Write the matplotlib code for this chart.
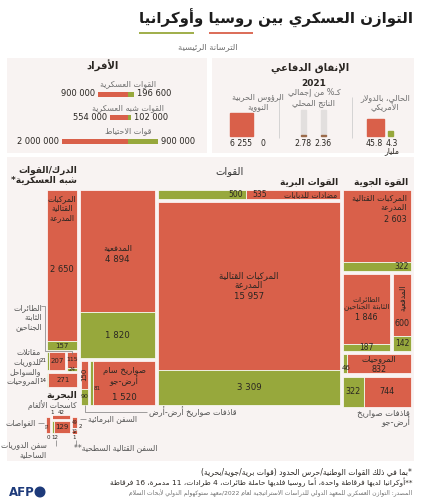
import matplotlib
matplotlib.use('Agg')
import matplotlib.pyplot as plt
from matplotlib.patches import Rectangle, Circle
import numpy as np

W, H = 421, 500
RED = '#d9604a'
GREEN = '#97a83c'
PANEL = '#f8f3f2'
INK = '#2a2622'
GREY = '#555555'
LIGHT = '#6e6e6e'

plt.rcParams['font.family'] = ['DejaVu Sans']

# ---------------- data ----------------
title = 'التوازن العسكري بين روسيا وأوكرانيا'
subtitle = 'الترسانة الرئيسية'

pers_labels = ['القوات العسكرية', 'القوات شبه العسكرية', 'قوات الاحتياط']
pers_ru = [900000, 554000, 2000000]
pers_ua = [196600, 102000, 900000]

budget = [45.8, 4.3]        # مليار دولار
gdp_pct = [2.78, 2.36]      # 2021
warheads = [6255, 0]

# الدرك/القوات شبه العسكرية
para_ru = [2650, 207, 115, 271]
para_ua = [157, 21, 24, 14]
# القوات البرية: مضادات للدبابات، مركبات مدرعة، مدفعية، صواريخ سام، قاذفات أرض-أرض
land_ru = [535, 15957, 4894, 1520, 150]
land_ua = [500, 3309, 1820, 81, 90]
# القوة الجوية: مركبات مدرعة، طائرات ثابتة الجناحين، مدفعية، مروحيات، قاذفات أرض-جو
air_ru = [2603, 1846, 600, 832, 744]
air_ua = [322, 187, 142, 46, 322]
# البحرية: غواصات، كاسحات ألغام، دوريات ساحلية، برمائية، قتالية سطحية
navy_ru = [51, 42, 129, 49, 32]
navy_ua = [0, 1, 12, 2, 1]

footnotes = ['*بما في ذلك القوات الوطنية/حرس الحدود (قوات برية/جوية/بحرية)',
             '**أوكرانيا لديها فرقاطة واحدة، أما روسيا فلديها حاملة طائرات، 4 طرادات، 11 مدمرة، 16 فرقاطة']
source = 'المصدر: التوازن العسكري للمعهد الدولي للدراسات الاستراتيجية لعام 2022/معهد ستوكهولم الدولي لأبحاث السلام'

# treemap layout boxes (x0, y0, x1, y1) in pixels, split direction
PARA_BOX = [(47, 190, 77, 350), (47, 352, 65, 370), (67, 352, 77, 371), (47, 373, 77, 387)]
PARA_DIR = ['v', 'h', 'v', 'h']
LAND_BOX = [(158, 190, 340, 199), (158, 202, 340, 405), (80, 190, 155, 358),
            (90, 361, 155, 405), (81, 361, 88, 405)]
LAND_DIR = ['h', 'v', 'v', 'h', 'v']
AIR_BOX = [(343, 190, 411, 271), (343, 274, 390, 351), (393, 274, 411, 351),
           (343, 354, 411, 373), (343, 377, 411, 407)]
AIR_DIR = ['v', 'v', 'v', 'h', 'h']
NAVY_BOX = [(46, 417, 50, 433), (52, 415, 70, 419), (52, 421, 70, 433),
            (72, 417, 77, 428), (72, 430, 77, 434)]
NAVY_DIR = ['v', 'h', 'h', 'v', 'v']

# ---------------- arabic shaping (no raqm in matplotlib) ----------------
_FORMS = {
    'ء': (0xFE80, 1), 'آ': (0xFE81, 2), 'أ': (0xFE83, 2), 'ؤ': (0xFE85, 2),
    'إ': (0xFE87, 2), 'ئ': (0xFE89, 4), 'ا': (0xFE8D, 2), 'ب': (0xFE8F, 4),
    'ة': (0xFE93, 2), 'ت': (0xFE95, 4), 'ث': (0xFE99, 4), 'ج': (0xFE9D, 4),
    'ح': (0xFEA1, 4), 'خ': (0xFEA5, 4), 'د': (0xFEA9, 2), 'ذ': (0xFEAB, 2),
    'ر': (0xFEAD, 2), 'ز': (0xFEAF, 2), 'س': (0xFEB1, 4), 'ش': (0xFEB5, 4),
    'ص': (0xFEB9, 4), 'ض': (0xFEBD, 4), 'ط': (0xFEC1, 4), 'ظ': (0xFEC5, 4),
    'ع': (0xFEC9, 4), 'غ': (0xFECD, 4), 'ف': (0xFED1, 4), 'ق': (0xFED5, 4),
    'ك': (0xFED9, 4), 'ل': (0xFEDD, 4), 'م': (0xFEE1, 4), 'ن': (0xFEE5, 4),
    'ه': (0xFEE9, 4), 'و': (0xFEED, 2), 'ى': (0xFEEF, 2), 'ي': (0xFEF1, 4),
}
_LAMALEF = {'آ': 0xFEF5, 'أ': 0xFEF7, 'إ': 0xFEF9, 'ا': 0xFEFB}
_TATWEEL = 'ـ'
_MIRROR = {'(': ')', ')': '('}


def _dual(c):
    return (c in _FORMS and _FORMS[c][1] == 4) or c == _TATWEEL


def _joins(c):
    return (c in _FORMS and _FORMS[c][1] > 1) or c == _TATWEEL


def _shape(s):
    out = []
    i = 0
    while i < len(s):
        c = s[i]
        prev = s[i - 1] if i > 0 else ''
        nxt = s[i + 1] if i + 1 < len(s) else ''
        cp = bool(prev) and _dual(prev) and _joins(c)
        if c == 'ل' and nxt in _LAMALEF:
            out.append(chr(_LAMALEF[nxt] + (1 if cp else 0)))
            i += 2
            continue
        if c in _FORMS:
            base, nf = _FORMS[c]
            cn = nf == 4 and bool(nxt) and _joins(nxt)
            if nf == 1:
                f = 0
            elif nf == 2:
                f = 1 if cp else 0
            else:
                f = {(False, False): 0, (True, False): 1, (False, True): 2, (True, True): 3}[(cp, cn)]
            out.append(chr(base + f))
        else:
            out.append(c)
        i += 1
    return ''.join(out)


def ar(s):
    if '\n' in s:
        return '\n'.join(ar(p) for p in s.split('\n'))
    sh = _shape(s)
    if all(c.isascii() for c in sh):
        return s
    kinds = []
    for c in sh:
        if c.isascii() and c.isalnum():
            kinds.append('L')
        elif not c.isascii():
            kinds.append('R')
        else:
            kinds.append('N')
    n = len(kinds)
    res = kinds[:]
    for i in range(n):
        if kinds[i] == 'N':
            a = next((kinds[j] for j in range(i - 1, -1, -1) if kinds[j] != 'N'), 'R')
            b = next((kinds[j] for j in range(i + 1, n) if kinds[j] != 'N'), 'R')
            res[i] = 'L' if (a == 'L' and b == 'L') else 'R'
    runs = []
    for c, k in zip(sh, res):
        if runs and runs[-1][0] == k:
            runs[-1][1].append(c)
        else:
            runs.append([k, [c]])
    out = ''
    for k, cs in reversed(runs):
        if k == 'R':
            out += ''.join(_MIRROR.get(c, c) for c in reversed(cs))
        else:
            out += ''.join(cs)
    return out


def fmt(v):
    if isinstance(v, float):
        return str(v)
    return f'{v:,}'.replace(',', ' ')


# ---------------- figure ----------------
fig = plt.figure(figsize=(W / 100, H / 100), dpi=100)
ax = fig.add_axes([0, 0, 1, 1])
ax.set_xlim(0, W)
ax.set_ylim(H, 0)
ax.axis('off')


def t(x, y, s, size=6, ha='center', va='center', color=INK, weight='normal', rot=0, **kw):
    return ax.text(x, y, ar(s), fontsize=size, ha=ha, va=va, color=color,
                   fontweight=weight, rotation=rot, linespacing=1.05, **kw)


def line(xs, ys, color='#7a7a7a', lw=0.5):
    ax.plot(xs, ys, color=color, lw=lw, solid_capstyle='butt')


for (x0, y0, x1, y1) in [(7, 58, 207, 153), (212, 58, 414, 153), (7, 157, 414, 461)]:
    ax.add_patch(Rectangle((x0, y0), x1 - x0, y1 - y0, facecolor=PANEL, edgecolor='none'))

# title + underlines
TSIZE = 10.8
tt = t(413, 18, title, size=TSIZE, ha='right', weight='bold', color='#1c1c1c')
t(208, 47, subtitle, size=6, color=LIGHT)
fig.canvas.draw()
rend = fig.canvas.get_renderer()


def width(s):
    tmp = ax.text(0, 0, ar(s), fontsize=TSIZE, fontweight='bold')
    w = tmp.get_window_extent(rend).width
    tmp.remove()
    return w


bb = tt.get_window_extent(rend)
gx1 = bb.x0 + width('أوكرانيا')
rx1 = bb.x0 + width('روسيا وأوكرانيا')
rx0 = rx1 - width('روسيا')
line([bb.x0, gx1], [33, 33], color=GREEN, lw=1.3)
line([rx0, rx1], [33, 33], color=RED, lw=1.3)

# ---------------- personnel ----------------
t(103, 66, 'الأفراد', size=7.2, weight='bold')
px0, py0, px1, py1 = 10, 80, 205, 150
pax = fig.add_axes([px0 / W, 1 - py1 / H, (px1 - px0) / W, (py1 - py0) / H])
pax.axis('off')
scale = 66 / 2000000                   # px per person
pax.set_xlim(-(128 - px0) / scale, (px1 - 128) / scale)
rows = np.arange(len(pers_ru))
step = 23.5
pax.set_ylim((py1 - 94) / step, (py0 - 94) / step)
pax.barh(rows, [-v for v in pers_ru], height=5 / step, color=RED)
pax.barh(rows, pers_ua, height=5 / step, color=GREEN)
off = 3 / scale
for i in rows:
    pax.text(-pers_ru[i] - off, i, fmt(pers_ru[i]), ha='right', va='center', fontsize=6, color=INK)
    pax.text(pers_ua[i] + off, i, fmt(pers_ua[i]), ha='left', va='center', fontsize=6, color=INK)
    pax.text(0, i - 10 / step, ar(pers_labels[i]), ha='center', va='center', fontsize=5.8, color=LIGHT)

# ---------------- defence spending ----------------
t(310, 68, 'الإنفاق الدفاعي', size=7.2, weight='bold')
line([279, 279], [97, 138], color='#cfcfcf', lw=0.6)
line([352, 352], [97, 138], color='#cfcfcf', lw=0.6)
base = 136

t(385, 103, 'الحالي، بالدولار\nالأمريكي', size=5.8, color=LIGHT)
k_b = 6.5
sr, sg = np.sqrt(budget[0] * k_b), np.sqrt(budget[1] * k_b)
ax.add_patch(Rectangle((384 - sr, base - sr), sr, sr, color=RED))
ax.add_patch(Rectangle((388, base - sg), sg, sg, color=GREEN))
t(384 - sr / 2 - 1.5, 143, fmt(budget[0]), size=5.6)
t(388 + sg / 2 + 1, 143, fmt(budget[1]), size=5.6)
t(388 + sg / 2 + 1, 151, 'مليار', size=5.6)

t(314, 83, '2021', size=6.5, weight='bold')
t(314, 97.5, 'كـ% من إجمالي\nالناتج المحلي', size=5.8, color=LIGHT)
for xc, v in zip([303, 323], gdp_pct):
    ax.add_patch(Rectangle((xc - 2.5, 110), 5, base - 110, color='#e2dfde'))
    hh = max(v / 100 * (base - 110), 0.8)
    ax.add_patch(Rectangle((xc - 2.5, base - hh), 5, hh, color='#9a6a4a'))
    t(xc, 143, fmt(v), size=5.6)

t(258, 101.5, 'الرؤوس الحربية\nالنووية', size=5.8, color=LIGHT)
k_w = 0.085
sw = np.sqrt(warheads[0] * k_w)
ax.add_patch(Rectangle((253 - sw, base - sw), sw, sw, color=RED))
t(253 - sw / 2, 143, fmt(warheads[0]), size=5.6)
t(263, 143, fmt(warheads[1]), size=5.6)

# ---------------- treemap ----------------


def split(box, d, ru, ua):
    x0, y0, x1, y1 = box
    f = ru / (ru + ua)
    if d == 'v':
        ym = y0 + f * (y1 - y0)
        return (x0, y0, x1, ym), (x0, ym, x1, y1)
    xm = x0 + (1 - f) * (x1 - x0)
    return (xm, y0, x1, y1), (x0, y0, xm, y1)


def draw_cells(boxes, dirs, ru, ua):
    out = []
    for b, d, r_, u_ in zip(boxes, dirs, ru, ua):
        r, u = split(b, d, r_, u_)
        for (x0, y0, x1, y1), col in ((r, RED), (u, GREEN)):
            if x1 - x0 > 0 and y1 - y0 > 0:
                ax.add_patch(Rectangle((x0, y0), x1 - x0, y1 - y0, facecolor=col,
                                       edgecolor='white', lw=0.5))
        out.append((r, u))
    return out


def cx(r):
    return (r[0] + r[2]) / 2


def cy(r):
    return (r[1] + r[3]) / 2


para = draw_cells(PARA_BOX, PARA_DIR, para_ru, para_ua)
land = draw_cells(LAND_BOX, LAND_DIR, land_ru, land_ua)
air = draw_cells(AIR_BOX, AIR_DIR, air_ru, air_ua)
navy = draw_cells(NAVY_BOX, NAVY_DIR, navy_ru, navy_ua)

# headers
t(230, 171, 'القوات', size=7.2, color='#333333')
t(77, 170, 'الدرك/القوات', size=6.5, ha='right', weight='bold')
t(77, 180, 'شبه العسكرية*', size=6.5, ha='right', weight='bold')
t(338, 182, 'القوات البرية', size=6.5, ha='right', weight='bold')
t(408, 182, 'القوة الجوية', size=6.5, ha='right', weight='bold')

# paramilitary
r, u = para[0]
t(cx(r), r[1] + 4, 'المركبات\nالقتالية\nالمدرعة', size=5.5, va='top')
t(cx(r), cy(r) + 4, fmt(para_ru[0]), size=6)
t(cx(u), cy(u), fmt(para_ua[0]), size=5)
r, u = para[1]
t(cx(r), cy(r), fmt(para_ru[1]), size=5)
t(u[0] - 0.5, cy(u), fmt(para_ua[1]), size=4, ha='right')
r, u = para[2]
t(cx(r), cy(r), fmt(para_ru[2]), size=4.5)
t(cx(u), cy(u), fmt(para_ua[2]), size=4)
r, u = para[3]
t(cx(r), cy(r), fmt(para_ru[3]), size=5)
t(u[0] - 0.5, cy(u), fmt(para_ua[3]), size=4, ha='right')

t(42, 317, 'الطائرات\nالثابتة\nالجناحين', size=5.5, ha='right', color=GREY)
fx = cx(PARA_BOX[2])
line([41, 45, 45, fx, fx], [306, 306, 351, 351, 354])
t(41, 362, 'مقاتلات\nللدوريات\nوالسواحل', size=5.5, ha='right', color=GREY)
t(40, 381, 'المروحيات', size=5.5, ha='right', color=GREY)

# land forces
r, u = land[0]
t(u[2] - 3, cy(u), fmt(land_ua[0]), size=5.5, ha='right')
t(r[0] + 6, cy(r), fmt(land_ru[0]), size=5.5, ha='left')
t(r[2] - 3, cy(r), 'مضادات للدبابات', size=5.5, ha='right')
r, u = land[1]
t(cx(r), cy(r) - 6, 'المركبات القتالية\nالمدرعة', size=6.2)
t(cx(r), cy(r) + 10, fmt(land_ru[1]), size=6.2)
t(cx(u), cy(u), fmt(land_ua[1]), size=6.2)
r, u = land[2]
t(cx(r), cy(r) - 4, 'المدفعية', size=6)
t(cx(r), cy(r) + 8, fmt(land_ru[2]), size=6.2)
t(cx(u), cy(u), fmt(land_ua[2]), size=6.2)
r, u = land[3]
t(cx(r), cy(r) - 7, 'صواريخ سام\nأرض-جو', size=6)
t(cx(r), cy(r) + 14, fmt(land_ru[3]), size=6.2)
t(u[2] + 0.3, cy(u) + 6, fmt(land_ua[3]), size=4, ha='left')
r, u = land[4]
t(cx(r), cy(r), fmt(land_ru[4]), size=5, rot=90)
t(cx(u), cy(u), fmt(land_ua[4]), size=4.5)
sx = cx(LAND_BOX[4])
line([sx, sx, 147], [405, 412, 412])
t(149, 412, 'قاذفات صواريخ أرض-أرض', size=5.8, ha='left', color=GREY)

# air force
r, u = air[0]
t(r[2] - 4, r[1] + 3, 'المركبات القتالية\nالمدرعة', size=5.8, ha='right', va='top')
t(r[2] - 4, 220, fmt(air_ru[0]), size=5.8, ha='right')
t(u[2] - 2, cy(u), fmt(air_ua[0]), size=5.5, ha='right')
r, u = air[1]
t(cx(r), cy(r) - 5.5, 'الطائرات\nالثابتة الجناحين', size=5.3)
t(cx(r), cy(r) + 9, fmt(air_ru[1]), size=5.8)
t(cx(u), cy(u), fmt(air_ua[1]), size=5.5)
r, u = air[2]
t(cx(r), cy(r) - 7, 'المدفعية', size=5.5, rot=90)
t(cx(r), cy(r) + 18, fmt(air_ru[2]), size=5.8)
t(cx(u), cy(u), fmt(air_ua[2]), size=5.5)
r, u = air[3]
t(cx(r), cy(r) - 4.5, 'المروحيات', size=5.8)
t(cx(r), cy(r) + 5.5, fmt(air_ru[3]), size=5.8)
t(cx(u) + 1.5, cy(u) + 4, fmt(air_ua[3]), size=5)
r, u = air[4]
t(cx(u), cy(u), fmt(air_ua[4]), size=5.8)
t(cx(r), cy(r), fmt(air_ru[4]), size=5.8)
t(410, 413, 'قاذفات صواريخ', size=6, ha='right', color=GREY)
t(410, 422, 'أرض-جو', size=6, ha='right', color=GREY)

# navy
t(77, 395, 'البحرية', size=6.5, ha='right', weight='bold')
t(77, 405, 'كاسحات الألغام', size=5.5, ha='right', color=GREY)
r, u = navy[1]
t(u[0] + 0.5, 412, fmt(navy_ua[1]), size=4)
t(cx(r), 412, fmt(navy_ru[1]), size=4)
r, u = navy[0]
t(cx(r), cy(r), fmt(navy_ru[0]), size=3.2, rot=90)
t(cx(r), 437.5, fmt(navy_ua[0]), size=4)
line([38, 44], [423, 423])
t(36, 423, 'الغواصات', size=5.5, ha='right', color=GREY)
r, u = navy[2]
t(cx(r), cy(r), fmt(navy_ru[2]), size=5)
t(u[0] + 3, 437.5, fmt(navy_ua[2]), size=4)
r, u = navy[3]
t(cx(r), cy(r), fmt(navy_ru[3]), size=3.3)
t(u[2] + 3, cy(u) - 1, fmt(navy_ua[3]), size=4)
line([80, 86], [419, 419])
t(88, 419, 'السفن البرمائية', size=5.5, ha='left', color=GREY)
r, u = navy[4]
t(cx(r), cy(r), fmt(navy_ru[4]), size=3.3)
t(cx(r), 437.5, fmt(navy_ua[4]), size=4)
line([56, 56], [440, 446])
t(47, 449.5, 'سفن الدوريات\nالساحلية', size=5.5, ha='right', color=GREY)
line([76, 76], [440, 445])
t(74, 448, 'السفن القتالية السطحية**', size=5.5, ha='left', color=GREY)

# ---------------- footer ----------------
t(412, 472, footnotes[0], size=5.5, ha='right')
t(412, 482, footnotes[1], size=5.3, ha='right')
t(412, 493, source, size=4.3, ha='right', color=LIGHT)
ax.text(9, 492, 'AFP', fontsize=8.5, fontweight='bold', color='#1d3a7a', ha='left', va='center')
ax.add_patch(Circle((40, 492), 4.8, color='#1d3a7a'))

fig.savefig('out.png', dpi=100)
